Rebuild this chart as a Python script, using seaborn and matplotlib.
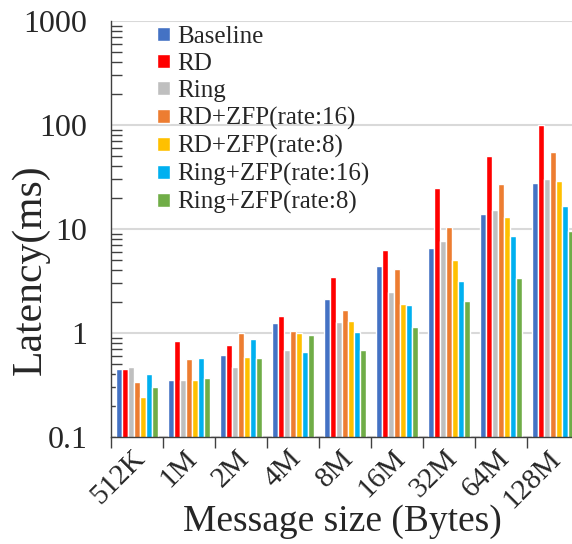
"""
Latency of allreduce variants per message size (log scale grouped bars).
"""

import numpy as np
import pandas as pd
import seaborn as sns
from matplotlib import pyplot as plt
from matplotlib.ticker import FixedLocator, NullFormatter, LogLocator
from matplotlib.transforms import ScaledTranslation


# === Data ===

sizes = ["512K", "1M", "2M", "4M", "8M", "16M", "32M", "64M", "128M"]
methods = ["Baseline", "RD", "Ring", "RD+ZFP(rate:16)", "RD+ZFP(rate:8)",
           "Ring+ZFP(rate:16)", "Ring+ZFP(rate:8)"]

baseline = [0.45, 0.35, 0.61, 1.26, 2.12, 4.42, 6.6, 13.9, 27.9]
rd = [0.45, 0.84, 0.76, 1.47, 3.48, 6.3, 24.9, 50, 100]
ring = [0.47, 0.35, 0.47, 0.69, 1.28, 2.48, 7.6, 15.2, 30]
rd_zfp16 = [0.34, 0.56, 1.0, 1.04, 1.66, 4.12, 10.5, 27.1, 54.6]
rd_zfp8 = [0.24, 0.35, 0.59, 1.0, 1.31, 1.89, 5.0, 13.0, 28.8]
ring_zfp16 = [0.40, 0.57, 0.87, 0.65, 1.02, 1.85, 3.18, 8.6, 16.7]
ring_zfp8 = [0.30, 0.37, 0.58, 0.95, 0.68, 1.14, 2.03, 3.4, 9.6]

colors = ["#4472C4", "#FF0000", "#BFBFBF", "#ED7D31", "#FFC000",
          "#00B0F0", "#70AD47"]


# === Build table ===

series = [baseline, rd, ring, rd_zfp16, rd_zfp8, ring_zfp16, ring_zfp8]
rows = []
for method, values in zip(methods, series):
    for size, val in zip(sizes, values):
        rows.append({"size": size, "method": method, "latency": val})
data = pd.DataFrame(rows)


# === Plot ===

sns.set_style("white")
plt.rcParams["font.family"] = ["Liberation Serif", "DejaVu Serif"]

fig = plt.figure(figsize=(5.72, 5.44), dpi=100)
ax = fig.add_axes([111 / 572, 107 / 544, 468 / 572, 416 / 544])
ax.set_yscale("log")

sns.barplot(
    data=data, x="size", y="latency", hue="method",
    order=sizes, hue_order=methods, palette=colors,
    width=0.8, saturation=1, ax=ax, zorder=2,
)

ax.set_ylim(0.1, 1000)
ax.set_xlim(-0.5, 8.5)
ax.set_yticks([0.1, 1, 10, 100, 1000])
ax.set_yticklabels(["0.1", "1", "10", "100", "1000"])
ax.yaxis.set_minor_locator(LogLocator(base=10, subs=np.arange(2, 10)))
ax.yaxis.set_minor_formatter(NullFormatter())
ax.grid(axis="y", which="major", color="#D9D9D9", linewidth=1.5, zorder=0)
ax.set_axisbelow(True)

ax.tick_params(axis="y", which="major", direction="inout", length=18,
               width=1, labelsize=23, pad=8, color="#404040")
ax.tick_params(axis="y", which="minor", direction="in", length=8,
               width=1, color="#404040", left=True)

ax.set_xticks(range(len(sizes)))
ax.set_xticklabels(sizes, rotation=45, ha="right", rotation_mode="anchor")
ax.xaxis.set_minor_locator(FixedLocator(np.arange(-0.5, 9, 1)))
ax.tick_params(axis="x", which="major", length=0, labelsize=21, pad=6)
ax.tick_params(axis="x", which="minor", direction="out", length=8,
               width=1, color="#404040", bottom=True)
shift = ScaledTranslation(-5 / 100, 0, fig.dpi_scale_trans)
for lab in ax.get_xticklabels():
    lab.set_transform(lab.get_transform() + shift)

for side in ["top", "right"]:
    ax.spines[side].set_visible(False)
for side in ["left", "bottom"]:
    ax.spines[side].set_color("#404040")
    ax.spines[side].set_linewidth(1)

ax.set_xlabel("Message size (Bytes)", fontsize=27)
ax.xaxis.set_label_coords((342 - 111) / 468, -67 / 416)
ax.set_ylabel("Latency(ms)", fontsize=30)
ax.yaxis.set_label_coords((50 - 111) / 468, (437 - 270) / 416)

ax.legend(
    loc="upper left", bbox_to_anchor=(157 / 572, 1 - 26 / 544),
    bbox_transform=fig.transFigure, frameon=False, fontsize=18,
    handlelength=0.5, handleheight=0.5, handletextpad=0.3,
    labelspacing=0.2, borderpad=0, borderaxespad=0, title=None,
)

plt.savefig("out.png", dpi=100)
